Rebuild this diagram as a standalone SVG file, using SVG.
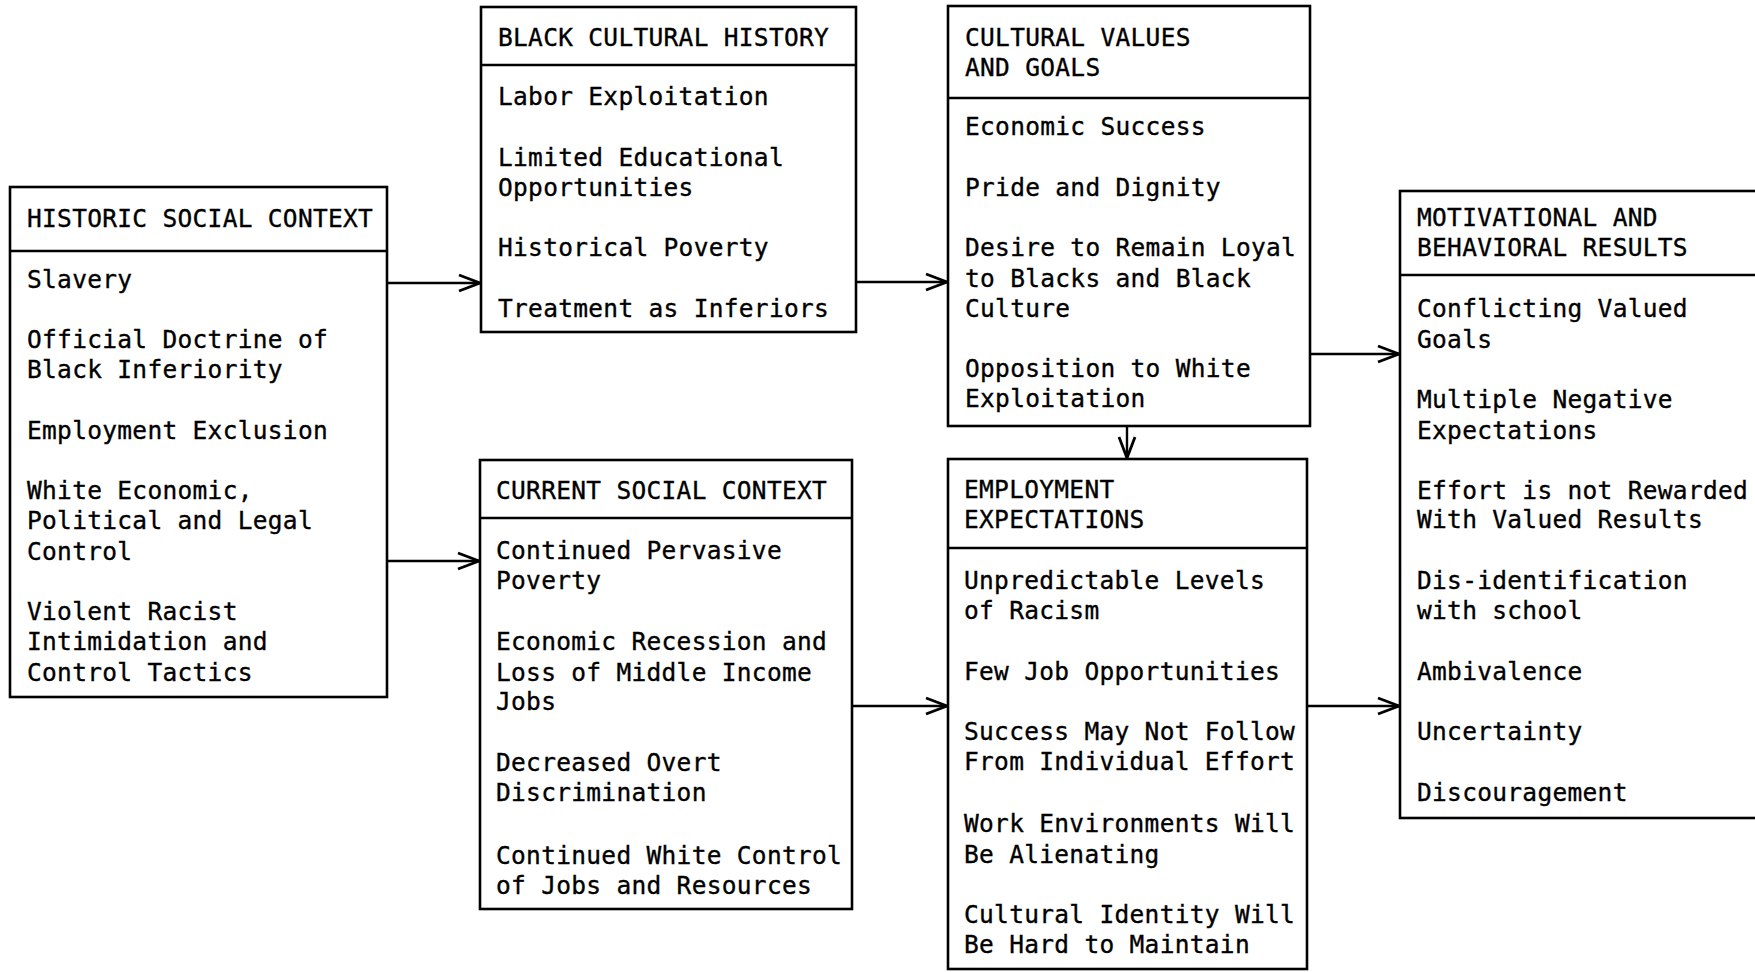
<svg xmlns="http://www.w3.org/2000/svg" width="1755" height="972" viewBox="0 0 1755 972">
<style>
.box{fill:#fff;stroke:#000;stroke-width:2.6}
.div{stroke:#000;stroke-width:2.6}
.t{font-family:"DejaVu Sans Mono","Liberation Mono",monospace;font-size:24.5px;letter-spacing:0.3px;fill:#000;stroke:#000;stroke-width:0.35}
.c{fill:none;stroke:#000;stroke-width:2.4}
</style>
<defs>
<marker id="ah" markerUnits="userSpaceOnUse" markerWidth="26" markerHeight="22" refX="22" refY="10" orient="auto">
<path d="M1,2 L22,10 L1,18" fill="none" stroke="#000" stroke-width="2.8"/>
</marker>
</defs>
<rect width="1755" height="972" fill="#fff"/>
<g id="connectors">
<line class="c" x1="387" y1="283" x2="480" y2="283" marker-end="url(#ah)"/>
<line class="c" x1="387" y1="561" x2="479" y2="561" marker-end="url(#ah)"/>
<line class="c" x1="856" y1="282" x2="947" y2="282" marker-end="url(#ah)"/>
<line class="c" x1="852" y1="706" x2="947" y2="706" marker-end="url(#ah)"/>
<line class="c" x1="1127" y1="426" x2="1127" y2="458" marker-end="url(#ah)"/>
<line class="c" x1="1310" y1="354" x2="1399" y2="354" marker-end="url(#ah)"/>
<line class="c" x1="1307" y1="706" x2="1399" y2="706" marker-end="url(#ah)"/>
</g>
<g id="historic">
<rect class="box" x="10" y="187" width="377" height="510"/>
<line class="div" x1="10" y1="251" x2="387" y2="251"/>
<text class="t" x="27" y="227">HISTORIC SOCIAL CONTEXT</text>
<text class="t" x="27" y="288">Slavery</text>
<text class="t" x="27" y="348">Official Doctrine of</text>
<text class="t" x="27" y="378">Black Inferiority</text>
<text class="t" x="27" y="439">Employment Exclusion</text>
<text class="t" x="27" y="499">White Economic,</text>
<text class="t" x="27" y="529">Political and Legal</text>
<text class="t" x="27" y="560">Control</text>
<text class="t" x="27" y="620">Violent Racist</text>
<text class="t" x="27" y="650">Intimidation and</text>
<text class="t" x="27" y="681">Control Tactics</text>
</g>
<g id="black-cultural-history">
<rect class="box" x="481" y="7" width="375" height="325"/>
<line class="div" x1="481" y1="65" x2="856" y2="65"/>
<text class="t" x="498" y="46">BLACK CULTURAL HISTORY</text>
<text class="t" x="498" y="105">Labor Exploitation</text>
<text class="t" x="498" y="166">Limited Educational</text>
<text class="t" x="498" y="196">Opportunities</text>
<text class="t" x="498" y="256">Historical Poverty</text>
<text class="t" x="498" y="317">Treatment as Inferiors</text>
</g>
<g id="current-social-context">
<rect class="box" x="480" y="460" width="372" height="449"/>
<line class="div" x1="480" y1="518" x2="852" y2="518"/>
<text class="t" x="496" y="499">CURRENT SOCIAL CONTEXT</text>
<text class="t" x="496" y="559">Continued Pervasive</text>
<text class="t" x="496" y="589">Poverty</text>
<text class="t" x="496" y="650">Economic Recession and</text>
<text class="t" x="496" y="681">Loss of Middle Income</text>
<text class="t" x="496" y="710">Jobs</text>
<text class="t" x="496" y="771">Decreased Overt</text>
<text class="t" x="496" y="801">Discrimination</text>
<text class="t" x="496" y="864">Continued White Control</text>
<text class="t" x="496" y="894">of Jobs and Resources</text>
</g>
<g id="cultural-values">
<rect class="box" x="948" y="6" width="362" height="420"/>
<line class="div" x1="948" y1="98" x2="1310" y2="98"/>
<text class="t" x="965" y="46">CULTURAL VALUES</text>
<text class="t" x="965" y="76">AND GOALS</text>
<text class="t" x="965" y="135">Economic Success</text>
<text class="t" x="965" y="196">Pride and Dignity</text>
<text class="t" x="965" y="256">Desire to Remain Loyal</text>
<text class="t" x="965" y="287">to Blacks and Black</text>
<text class="t" x="965" y="317">Culture</text>
<text class="t" x="965" y="377">Opposition to White</text>
<text class="t" x="965" y="407">Exploitation</text>
</g>
<g id="employment-expectations">
<rect class="box" x="948" y="459" width="359" height="510"/>
<line class="div" x1="948" y1="548" x2="1307" y2="548"/>
<text class="t" x="964" y="498">EMPLOYMENT</text>
<text class="t" x="964" y="528">EXPECTATIONS</text>
<text class="t" x="964" y="589">Unpredictable Levels</text>
<text class="t" x="964" y="619">of Racism</text>
<text class="t" x="964" y="680">Few Job Opportunities</text>
<text class="t" x="964" y="740">Success May Not Follow</text>
<text class="t" x="964" y="770">From Individual Effort</text>
<text class="t" x="964" y="832">Work Environments Will</text>
<text class="t" x="964" y="863">Be Alienating</text>
<text class="t" x="964" y="923">Cultural Identity Will</text>
<text class="t" x="964" y="953">Be Hard to Maintain</text>
</g>
<g id="motivational-results">
<rect class="box" x="1400" y="191" width="370" height="627"/>
<line class="div" x1="1400" y1="275" x2="1770" y2="275"/>
<text class="t" x="1417" y="226">MOTIVATIONAL AND</text>
<text class="t" x="1417" y="256">BEHAVIORAL RESULTS</text>
<text class="t" x="1417" y="317">Conflicting Valued</text>
<text class="t" x="1417" y="348">Goals</text>
<text class="t" x="1417" y="408">Multiple Negative</text>
<text class="t" x="1417" y="439">Expectations</text>
<text class="t" x="1417" y="499">Effort is not Rewarded</text>
<text class="t" x="1417" y="528">With Valued Results</text>
<text class="t" x="1417" y="589">Dis-identification</text>
<text class="t" x="1417" y="619">with school</text>
<text class="t" x="1417" y="680">Ambivalence</text>
<text class="t" x="1417" y="740">Uncertainty</text>
<text class="t" x="1417" y="801">Discouragement</text>
</g>
</svg>
